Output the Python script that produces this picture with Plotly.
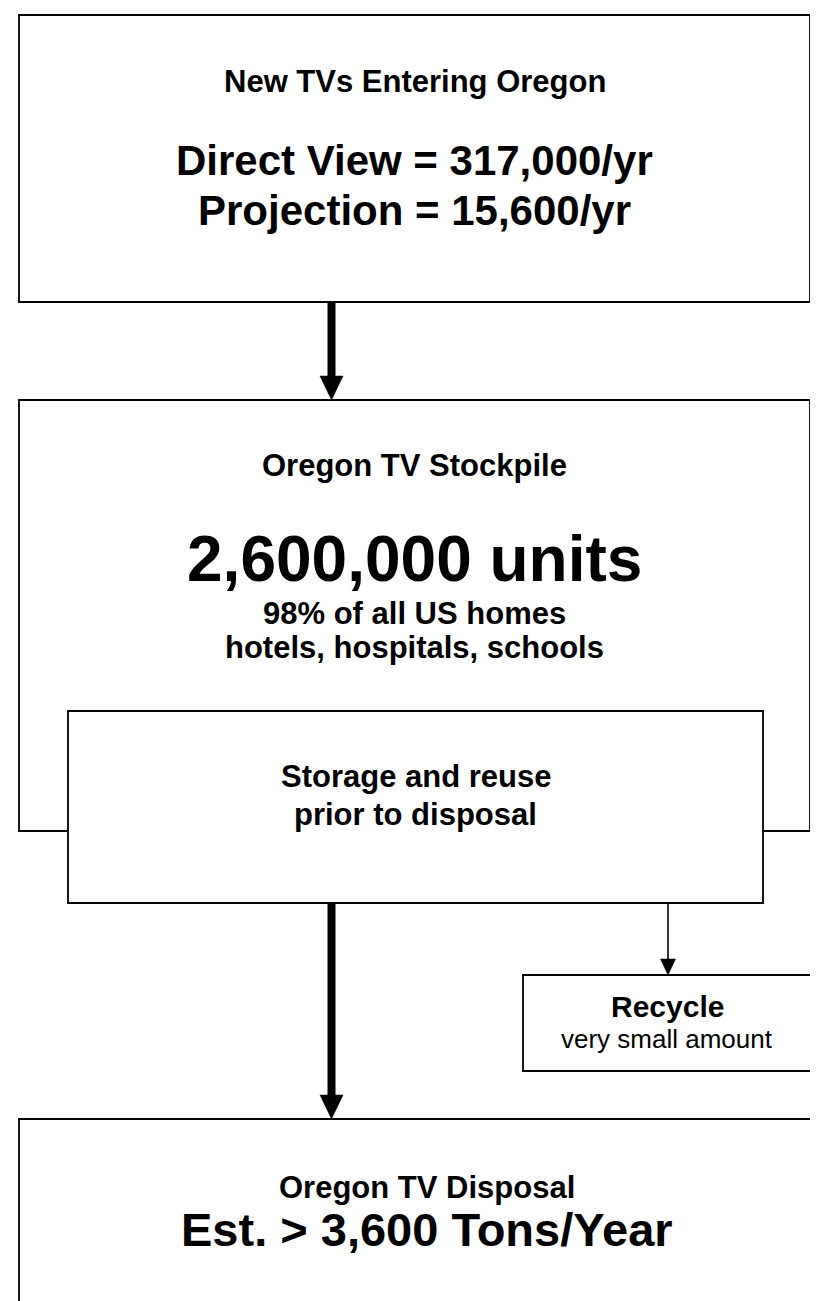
import plotly.graph_objects as go

# ---- data (values shown in the flow chart) ----
stages = ["New TVs Entering Oregon", "Oregon TV Stockpile", "Oregon TV Disposal"]
tv_types = ["Direct View", "Projection"]
new_tvs_per_year = [317000, 15600]
stockpile_units = 2600000
stockpile_notes = ["98% of all US homes", "hotels, hospitals, schools"]
storage_lines = ["Storage and reuse", "prior to disposal"]
recycle_lines = ["Recycle", "very small amount"]
disposal_tons_per_year = 3600

# ---- layout geometry (pixels, y downward) ----
W, H = 818, 1301
FONT = "Arial"
LW = 1.8

top_box = (11, 7, 802, 294)
mid_box = (11, 392, 802, 823)
inner_box = (60, 703, 755, 895)
rec_box = (515, 967, 803, 1063)
bot_box = (11, 1111, 826, 1330)

fig = go.Figure()
fig.add_trace(go.Scatter(x=[0, W], y=[0, H], mode="markers",
                         marker=dict(opacity=0), hoverinfo="skip", showlegend=False))

shapes = []


def rect(b, fill="white"):
    shapes.append(dict(type="rect", xref="x", yref="y", x0=b[0], y0=b[1], x1=b[2], y1=b[3],
                       line=dict(color="black", width=LW), fillcolor=fill, layer="above"))


rect(top_box)
rect(mid_box)
rect(inner_box)
rect(rec_box)
# bottom box runs off the page on the right and bottom
shapes.append(dict(type="path", xref="x", yref="y",
                   path=f"M {bot_box[0]} {bot_box[3]} L {bot_box[0]} {bot_box[1]} L {bot_box[2]} {bot_box[1]}",
                   line=dict(color="black", width=LW), layer="above"))


def arrow(x, y0, y1, shaft, head_w, head_h):
    shapes.append(dict(type="line", xref="x", yref="y", x0=x, x1=x, y0=y0, y1=y1 - head_h + 1,
                       line=dict(color="black", width=shaft), layer="above"))
    shapes.append(dict(type="path", xref="x", yref="y",
                       path=f"M {x - head_w / 2} {y1 - head_h} L {x + head_w / 2} {y1 - head_h} L {x} {y1} Z",
                       fillcolor="black", line=dict(color="black", width=0.5), layer="above"))


arrow(323.5, top_box[3], mid_box[1], 8, 23, 24)
arrow(323.5, inner_box[3], bot_box[1], 8, 23, 24)
arrow(660, inner_box[3], rec_box[1], 1.6, 15, 16)

ann = []


def txt(x, y, s, size, bold=True):
    ann.append(dict(x=x, y=y, xref="x", yref="y", text=(f"<b>{s}</b>" if bold else s),
                    showarrow=False, xanchor="center", yanchor="middle",
                    font=dict(family=FONT, size=size, color="black")))


cx_top = (top_box[0] + top_box[2]) / 2
txt(cx_top, 73.5, stages[0], 31)
txt(cx_top, 152.5, f"{tv_types[0]} = {new_tvs_per_year[0]:,}/yr", 42)
txt(cx_top, 202.5, f"{tv_types[1]} = {new_tvs_per_year[1]:,}/yr", 42)

cx_mid = (mid_box[0] + mid_box[2]) / 2
txt(cx_mid, 457.5, stages[1], 31)
txt(cx_mid, 550.5, f"{stockpile_units:,} units", 64)
txt(cx_mid, 605, stockpile_notes[0], 31)
txt(cx_mid, 639, stockpile_notes[1], 31)

cx_in = (inner_box[0] + inner_box[2]) / 2
txt(cx_in, 768.5, storage_lines[0], 31)
txt(cx_in, 806.5, storage_lines[1], 31)

cx_rec = (rec_box[0] + rec_box[2]) / 2
txt(cx_rec, 998.5, recycle_lines[0], 30)
txt(cx_rec, 1031, recycle_lines[1], 26, bold=False)

cx_bot = (bot_box[0] + bot_box[2]) / 2
txt(cx_bot, 1179, stages[2], 31)
txt(cx_bot, 1221, f"Est. &gt; {disposal_tons_per_year:,} Tons/Year", 47)

fig.update_layout(
    width=W, height=H,
    margin=dict(l=0, r=0, t=0, b=0),
    paper_bgcolor="white", plot_bgcolor="white",
    font=dict(family=FONT),
    xaxis=dict(range=[0, W], visible=False, fixedrange=True),
    yaxis=dict(range=[H, 0], visible=False, fixedrange=True),
    shapes=shapes, annotations=ann, showlegend=False,
)

fig.write_html("out.html", config={"displayModeBar": False})
